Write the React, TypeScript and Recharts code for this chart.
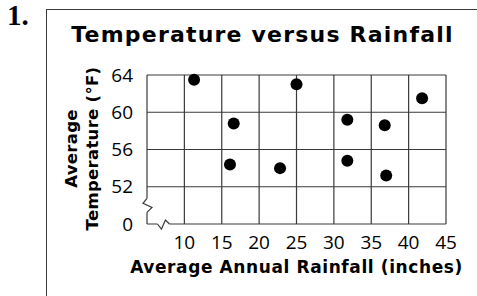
import React from "react"
import { ScatterChart, Scatter, XAxis, YAxis, CartesianGrid, ReferenceDot } from "recharts"

// average annual rainfall (inches) and average temperature (°F)
const rainfall = [11.3, 16.6, 16.1, 22.8, 25.0, 31.8, 31.8, 36.8, 37.0, 41.8]
const temperature = [63.5, 58.8, 54.4, 54.0, 63.0, 59.2, 54.8, 58.6, 53.2, 61.5]

const xTicks = [5, 10, 15, 20, 25, 30, 35, 40, 45]
const yTicks = [48, 52, 56, 60, 64]
// the bottom of the temperature axis is broken, so 48 is shown as 0
const yTickLabels = ["0", "52", "56", "60", "64"]

const data = rainfall.map((x, i) => ({ x, y: temperature[i] }))

const FONT = "'Open Sans', 'Noto Sans', sans-serif"
const BOLD = "'DejaVu Sans', sans-serif"
const LINE = "#3a3a3a"

// white gap with a zigzag, drawn over the left edge of the grid
const YBreak = (props: any) => {
  const { cx, cy } = props
  return (
    <g>
      <rect x={cx - 2} y={cy - 7} width={4} height={14} fill="#fff" />
      <path
        d={`M${cx},${cy - 7} L${cx - 4},${cy - 2} L${cx + 5},${cy + 2} L${cx},${cy + 7}`}
        fill="none"
        stroke={LINE}
        strokeWidth={1.2}
      />
    </g>
  )
}

// same for the bottom edge
const XBreak = (props: any) => {
  const { cx, cy } = props
  return (
    <g>
      <rect x={cx - 6} y={cy - 2} width={12} height={4} fill="#fff" />
      <path
        d={`M${cx - 6},${cy} L${cx - 2},${cy + 5} L${cx + 2},${cy - 4} L${cx + 6},${cy}`}
        fill="none"
        stroke={LINE}
        strokeWidth={1.2}
      />
    </g>
  )
}

const Dot = (props: any) => <circle cx={props.cx} cy={props.cy} r={6} fill="#000" />

const YLabel = (props: any) => {
  const { viewBox } = props
  const cy = viewBox.y + viewBox.height / 2 - 1
  return (
    <g fontFamily={BOLD} fontWeight={700} fontSize={16.5} fill="#000" textAnchor="middle" letterSpacing={0.3}>
      <text x={77} y={cy} transform={`rotate(-90, 77, ${cy})`}>Average</text>
      <text x={98} y={cy} transform={`rotate(-90, 98, ${cy})`}>Temperature (°F)</text>
    </g>
  )
}

export default function App() {
  return (
    <div
      style={{
        position: "absolute",
        left: 0,
        top: 0,
        width: 477,
        height: 296,
        background: "#fff",
        overflow: "hidden",
        fontFamily: FONT,
      }}
    >
      <div
        style={{
          position: "absolute",
          left: 7,
          top: 0,
          fontFamily: "'Liberation Serif', serif",
          fontWeight: 700,
          fontSize: 29,
          lineHeight: "30px",
        }}
      >
        1.
      </div>
      <div
        style={{
          position: "absolute",
          left: 46,
          top: 9,
          width: 440,
          height: 300,
          borderLeft: `1px solid ${LINE}`,
          borderTop: `1px solid ${LINE}`,
        }}
      />
      <div
        style={{
          position: "absolute",
          left: 46,
          width: 431,
          top: 22,
          textAlign: "center",
          fontFamily: BOLD,
          fontWeight: 700,
          fontSize: 22,
          letterSpacing: 1.2,
          paddingLeft: 1,
        }}
      >
        Temperature versus Rainfall
      </div>
      <div style={{ position: "absolute", left: 0, top: 0 }}>
        <ScatterChart width={477} height={296} margin={{ top: 75, right: 31, bottom: 0, left: 0 }}>
          <CartesianGrid stroke={LINE} strokeWidth={1.2} />
          <XAxis
            type="number"
            dataKey="x"
            domain={[5, 45]}
            ticks={xTicks}
            interval={0}
            tickFormatter={(v: number) => (v === 5 ? "" : String(v))}
            axisLine={false}
            tickLine={false}
            tickMargin={6}
            tick={{ fill: "#000", fontSize: 19, fontFamily: FONT }}
            height={72}
            label={{
              value: "Average Annual Rainfall (inches)",
              position: "insideTop",
              offset: 37,
              fill: "#000",
              fontSize: 17,
              fontWeight: 700,
              fontFamily: BOLD,
              letterSpacing: 0.6,
            }}
          />
          <YAxis
            type="number"
            dataKey="y"
            domain={[48, 64]}
            ticks={yTicks}
            interval={0}
            tickFormatter={(v: number) => yTickLabels[yTicks.indexOf(v)]}
            axisLine={false}
            tickLine={false}
            tickMargin={8}
            tick={{ fill: "#000", fontSize: 19, fontFamily: FONT }}
            width={147}
            label={<YLabel />}
          />
          <ReferenceDot x={5} y={50} r={0} shape={<YBreak />} ifOverflow="visible" />
          <ReferenceDot x={7.2} y={48} r={0} shape={<XBreak />} ifOverflow="visible" />
          <Scatter data={data} fill="#000" shape={<Dot />} isAnimationActive={false} />
        </ScatterChart>
      </div>
    </div>
  )
}
